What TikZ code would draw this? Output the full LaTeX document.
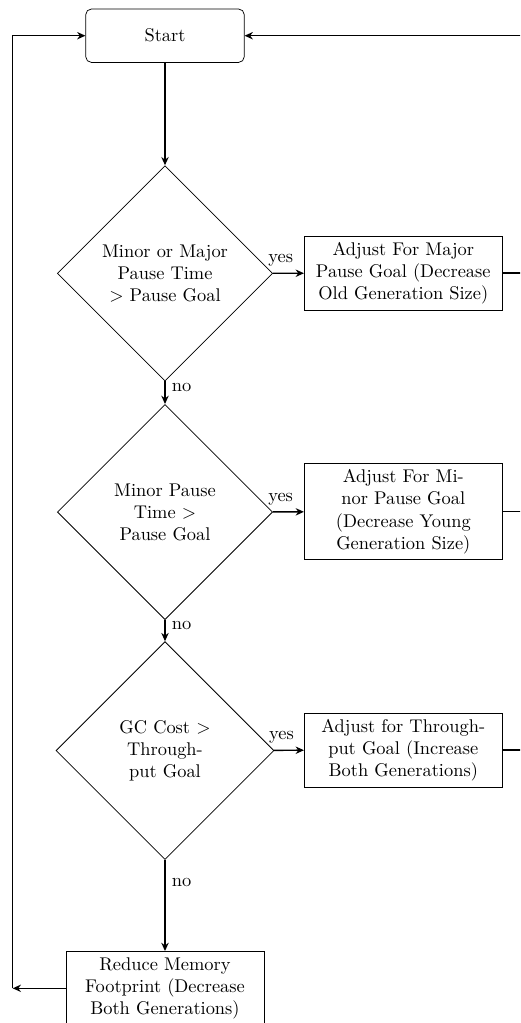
\documentclass[tikz,border=0pt]{standalone}
\usetikzlibrary{shapes.geometric,arrows.meta}
\begin{document}
\begin{tikzpicture}[x=0.5435pt,y=-0.5435pt,
  startbox/.style={draw, rounded corners=3pt, minimum width=86.1pt, minimum height=29pt, align=center},
  decision/.style={draw, diamond, aspect=1, minimum width=117pt, minimum height=117pt, inner sep=1pt, align=center},
  procbox/.style={draw, minimum width=107.6pt, align=center, inner sep=3.33pt},
  conn/.style={thick, -{Stealth[length=4.5pt,width=4pt]}},
  plain/.style={thick}]
\useasboundingbox (0,0) rectangle (520,1023);
\clip (0,0) rectangle (520,1023);

\node[startbox] (start) at (165,35.7) {Start};
\node[decision] (d1) at (165,273.3) {Minor or Major\\Pause Time\\$>$ Pause Goal};
\node[procbox] (b1) at (403.3,273.2) {Adjust For Major\\Pause Goal (Decrease\\Old Generation Size)};
\node[decision] (d2) at (165,512) {Minor Pause\\Time $>$\\Pause Goal};
\node[procbox] (b2) at (403.3,511.7) {Adjust For Mi-\\nor Pause Goal\\(Decrease Young\\Generation Size)};
\node[decision, minimum width=118.4pt, minimum height=118.4pt] (d3) at (165,750.5) {GC Cost $>$\\Through-\\put Goal};
\node[procbox] (b3) at (403.3,750) {Adjust for Through-\\put Goal (Increase\\Both Generations)};
\node[procbox] (b4) at (165,988.3) {Reduce Memory\\Footprint (Decrease\\Both Generations)};

\coordinate (rtop) at (545,35.7);
\coordinate (lx) at (12.7,0);
\coordinate (lbot) at (b4.west -| lx);

\draw[conn] (start) -- (d1);
\draw[conn] (d1) -- node[above, pos=0.25] {yes} (b1);
\draw[conn] (d1) -- node[right, pos=0.25] {no} (d2);
\draw[conn] (d2) -- node[above, pos=0.25] {yes} (b2);
\draw[conn] (d2) -- node[right, pos=0.25] {no} (d3);
\draw[conn] (d3) -- node[above, pos=0.25] {yes} (b3);
\draw[conn] (d3) -- node[right, pos=0.25] {no} (b4);

\draw[conn] (b1.east) -| (rtop) -- (start.east);
\draw[plain] (b2.east) -| (rtop);
\draw[plain] (b3.east) -| (rtop);

\draw[conn] (b4.west) -- (lbot);
\draw[conn] (lbot) |- (start.west);
\end{tikzpicture}
\end{document}
